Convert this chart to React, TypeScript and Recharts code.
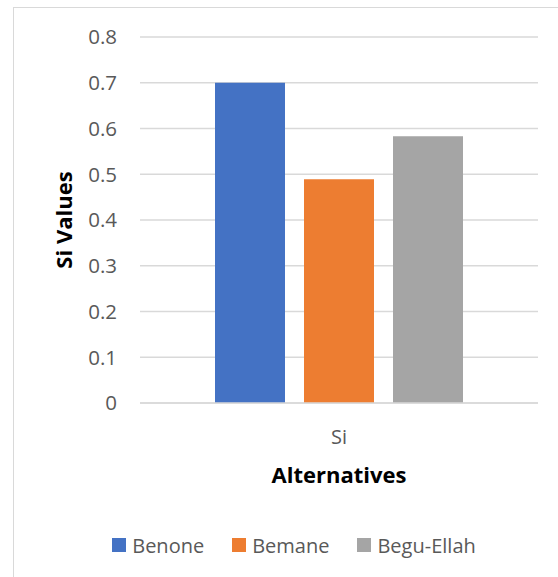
import { BarChart, Bar, XAxis, YAxis, CartesianGrid, Legend } from "recharts";

const categories = ["Si"];
const benone = [0.7];
const bemane = [0.489];
const beguEllah = [0.583];
const yTicks = [0, 0.1, 0.2, 0.3, 0.4, 0.5, 0.6, 0.7, 0.8];

const SERIES = [
  { key: "Benone", color: "#4472c4", values: benone },
  { key: "Bemane", color: "#ed7d31", values: bemane },
  { key: "Begu-Ellah", color: "#a5a5a5", values: beguEllah },
];

const data = categories.map((name, i) => {
  const row: Record<string, string | number> = { name };
  SERIES.forEach((s) => (row[s.key] = s.values[i]));
  return row;
});

const FONT = "'Open Sans', sans-serif";

function XTick({ x, y, payload }: any) {
  return (
    <text x={x} y={y + 39} textAnchor="middle" fill="#595959" fontSize={20} fontFamily={FONT}>
      {payload.value}
    </text>
  );
}

function LegendBox() {
  return (
    <div
      style={{
        height: 30,
        display: "flex",
        alignItems: "center",
        justifyContent: "center",
        paddingLeft: 30,
        fontFamily: FONT,
        fontSize: 20,
        color: "#595959",
      }}
    >
      {SERIES.map((s, i) => (
        <div key={s.key} style={{ display: "flex", alignItems: "center", marginLeft: i ? 28 : 0 }}>
          <span style={{ width: 14, height: 14, background: s.color, marginRight: 6 }} />
          <span>{s.key}</span>
        </div>
      ))}
    </div>
  );
}

export default function App() {
  return (
    <div style={{ position: "absolute", left: 0, top: 0, width: 558, height: 577, overflow: "hidden", background: "#fff" }}>
      <div style={{ position: "absolute", left: 13, top: 7, width: 700, height: 700, border: "1px solid #d9d9d9" }} />
      <div style={{ position: "absolute", left: 0, top: 0 }}>
        <BarChart
          width={558}
          height={577}
          data={data}
          margin={{ top: 37, right: 20, left: 0, bottom: 17 }}
          barCategoryGap={75}
          barGap={19}
        >
          <CartesianGrid vertical={false} stroke="#d9d9d9" strokeWidth={1.3} />
          <XAxis
            dataKey="name"
            height={127}
            axisLine={{ stroke: "#d9d9d9", strokeWidth: 1.3 }}
            tickLine={false}
            tickSize={0}
            tick={<XTick />}
            label={{
              content: ({ viewBox }: any) => (
                <text
                  x={viewBox.x + viewBox.width / 2}
                  y={viewBox.y + 80}
                  textAnchor="middle"
                  fontWeight="bold"
                  fontSize={22}
                  fontFamily={FONT}
                  fill="#000"
                >
                  Alternatives
                </text>
              ),
            }}
          />
          <YAxis
            width={140}
            domain={[0, 0.8]}
            ticks={yTicks}
            axisLine={false}
            tickLine={false}
            tickSize={0}
            tickMargin={23}
            tick={{ fill: "#595959", fontSize: 20.5, fontFamily: FONT }}
            label={{
              content: ({ viewBox }: any) => {
                const cx = 63;
                const cy = viewBox.y + viewBox.height / 2;
                return (
                  <text
                    x={cx}
                    y={cy}
                    transform={`rotate(-90 ${cx} ${cy})`}
                    textAnchor="middle"
                    dominantBaseline="central"
                    fontWeight="bold"
                    fontSize={22}
                    fontFamily={FONT}
                    fill="#000"
                  >
                    Si Values
                  </text>
                );
              },
            }}
          />
          <Legend verticalAlign="bottom" content={<LegendBox />} wrapperStyle={{ left: 0, width: 558 }} />
          {SERIES.map((s) => (
            <Bar key={s.key} dataKey={s.key} fill={s.color} isAnimationActive={false} />
          ))}
        </BarChart>
      </div>
    </div>
  );
}
